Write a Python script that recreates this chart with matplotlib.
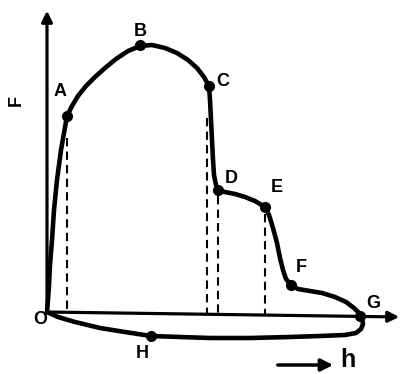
import matplotlib.pyplot as plt
import numpy as np

# curve O-A-B-C-D-E-F-G (loading) and G-H-O (return), pixel-like coords
load_x = [47, 48, 49, 50, 52, 54, 57, 61, 67, 72, 78, 86, 95, 105, 116, 128, 140, 152, 165, 177, 188, 197, 204, 209,
          210, 211, 212, 213, 214, 216, 218, 225, 235, 245, 255, 265,
          269, 273, 277, 280, 283, 286, 291, 298, 310, 322, 335, 346, 354, 359, 362]
load_y = [312, 300, 285, 265, 240, 210, 180, 150, 116, 106, 96, 86, 77, 68, 59, 51, 46, 45, 48, 53, 60, 68, 77, 86,
          100, 120, 140, 160, 175, 185, 190, 192, 194, 197, 201, 207,
          215, 228, 243, 258, 270, 279, 285, 289, 291, 293, 297, 302, 308, 313, 318]
ret_x = [362, 363, 361, 356, 345, 320, 290, 250, 210, 180, 151, 125, 100, 75, 58, 47]
ret_y = [318, 324, 329, 333, 335, 336, 337, 338, 338, 337, 336, 332, 328, 322, 317, 312]

pt_names = ['A', 'B', 'C', 'D', 'E', 'F', 'G', 'H']
pt_x = [67, 140, 209, 218, 265, 291, 360, 151]
pt_y = [116, 45, 86, 190, 207, 285, 316, 336]
lab_x = [60, 140, 223, 231, 277, 301, 373, 142]
lab_y = [91, 31, 81, 178, 187, 268, 303, 354]

dash_x = [67, 207, 218, 265]
dash_top = [138, 118, 196, 214]
dash_bot = [311, 313, 313, 314]

fig = plt.figure(figsize=(4.04, 3.74), dpi=100)
ax = fig.add_axes([0, 0, 1, 1])
ax.set_xlim(0, 404)
ax.set_ylim(374, 0)
ax.axis('off')

font = dict(family='Liberation Sans', fontweight='bold', color='black')

# axes with arrows
ax.annotate('', xy=(47, 8), xytext=(47, 313),
            arrowprops=dict(arrowstyle='-|>', lw=2.3, color='black', mutation_scale=16))
ax.annotate('', xy=(402, 317), xytext=(46, 312),
            arrowprops=dict(arrowstyle='-|>', lw=2.3, color='black', mutation_scale=16))

# dashed lines
for x, t, b in zip(dash_x, dash_top, dash_bot):
    ax.plot([x, x], [t, b], color='black', lw=1.5, ls=(0, (4, 2.5)))

ax.plot(load_x, load_y, color='black', lw=3.3, solid_joinstyle='round', solid_capstyle='round')
ax.plot(ret_x, ret_y, color='black', lw=3.3, solid_joinstyle='round', solid_capstyle='round')
ax.plot(pt_x, pt_y, 'o', color='black', ms=7)

for n, x, y in zip(pt_names, lab_x, lab_y):
    ax.text(x, y, n, fontsize=13, ha='center', va='center', **font)
ax.text(40, 320, 'O', fontsize=13, ha='center', va='center', **font)
ax.text(16, 100, 'F', fontsize=13, ha='center', va='center', rotation=90, **font)

# h arrow
ax.annotate('', xy=(336, 365), xytext=(275, 365),
            arrowprops=dict(arrowstyle='-|>', lw=2.5, color='black', mutation_scale=18))
ax.text(348, 372, 'h', fontsize=18, ha='center', va='bottom', **font)

fig.savefig('out.png', dpi=100)
